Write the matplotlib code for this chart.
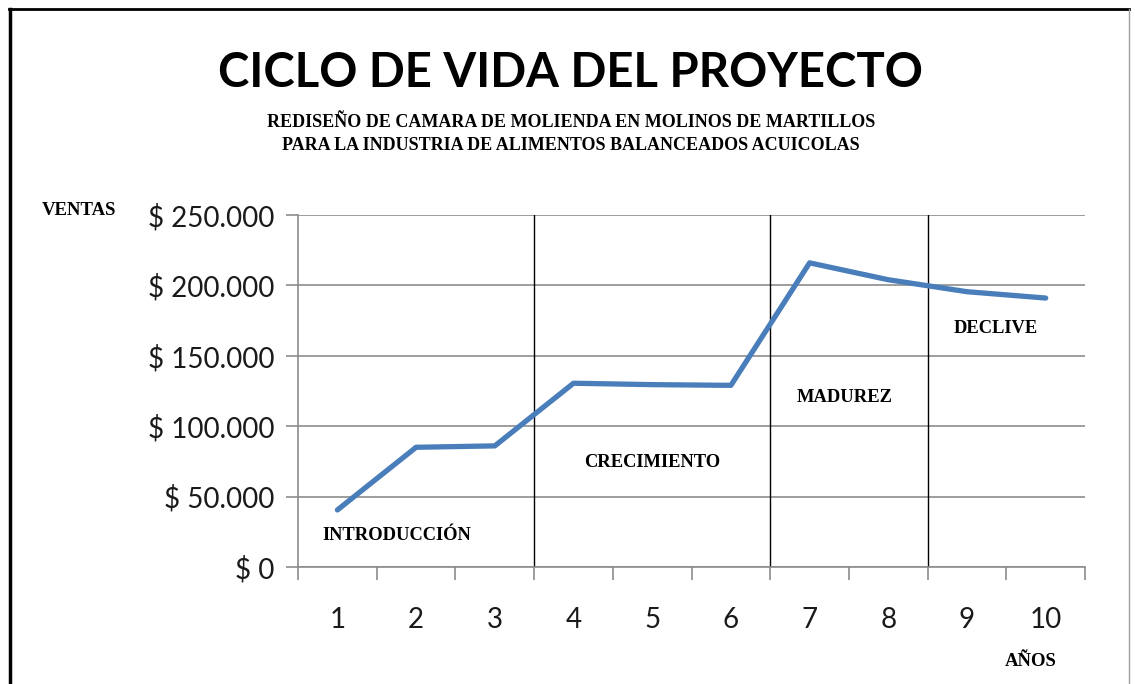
import matplotlib
matplotlib.use("Agg")
import matplotlib.pyplot as plt
from matplotlib.lines import Line2D
from matplotlib.ticker import FuncFormatter

# datos
anios = [1, 2, 3, 4, 5, 6, 7, 8, 9, 10]
ventas = [40500, 85000, 86000, 130500, 129500, 129000, 216000, 204000, 195500, 191000]
limites_fase = [3.5, 6.5, 8.5]
fases = ["INTRODUCCIÓN", "CRECIMIENTO", "MADUREZ", "DECLIVE"]
pos_fases = [(1.76, 22700), (5.0, 73900), (7.45, 120700), (9.37, 169700)]

fig = plt.figure(figsize=(11.35, 6.84), dpi=100)
ax = fig.add_axes([0.2626, 0.1711, 0.6934, 0.5146])

ax.plot(anios, ventas, color="#4A7EBB", linewidth=3.8, solid_capstyle="round",
        solid_joinstyle="round", zorder=3)

ax.set_xlim(0.5, 10.5)
ax.set_ylim(0, 250000)
ax.set_yticks(range(0, 250001, 50000))
ax.yaxis.set_major_formatter(FuncFormatter(lambda v, p: "$ " + f"{int(v):,}".replace(",", ".")))
ax.set_xticks(anios)
ax.set_xticks([x + 0.5 for x in range(0, 11)], minor=True)

ax.grid(axis="y", color="#8C8C8C", linewidth=1.2)
ax.set_axisbelow(True)
for x in limites_fase:
    ax.axvline(x, color="black", linewidth=1.0, zorder=2)

for s in ["top", "right"]:
    ax.spines[s].set_visible(False)
for s in ["left", "bottom"]:
    ax.spines[s].set_color("#8C8C8C")
    ax.spines[s].set_linewidth(1.2)

ax.tick_params(axis="y", which="major", length=9, color="#8C8C8C", width=1.2,
               labelsize=20, labelcolor="#1a1a1a", pad=8)
ax.tick_params(axis="x", which="major", length=0, labelsize=20, labelcolor="#1a1a1a", pad=29)
ax.tick_params(axis="x", which="minor", length=9, color="#8C8C8C", width=1.2)
for lab in ax.get_xticklabels() + ax.get_yticklabels():
    lab.set_family("Lato")

for nombre, (x, y) in zip(fases, pos_fases):
    ax.text(x, y, nombre, ha="center", va="center", family="Liberation Serif",
            fontweight="bold", fontsize=13.3)

fig.text(0.503, 0.893, "CICLO DE VIDA DEL PROYECTO", ha="center", va="center",
         family="Lato", fontweight="bold", fontsize=34)
fig.text(0.503, 0.804, "REDISEÑO DE CAMARA DE MOLIENDA EN MOLINOS DE MARTILLOS\n"
         "PARA LA INDUSTRIA DE ALIMENTOS BALANCEADOS ACUICOLAS",
         ha="center", va="center", family="Liberation Serif", fontweight="bold",
         fontsize=13, linespacing=1.45)
fig.text(0.037, 0.692, "VENTAS", ha="left", va="center", family="Liberation Serif",
         fontweight="bold", fontsize=13.5)
fig.text(0.8855, 0.033, "AÑOS", ha="left", va="center", family="Liberation Serif",
         fontweight="bold", fontsize=13.5)

# marco del grafico
fig.add_artist(Line2D([0.009, 0.009], [0, 0.987], transform=fig.transFigure, color="black", linewidth=2.5))
fig.add_artist(Line2D([0.008, 0.995], [0.987, 0.987], transform=fig.transFigure, color="black", linewidth=2.0))
fig.add_artist(Line2D([0.995, 0.995], [0, 0.987], transform=fig.transFigure, color="#A0A0A0", linewidth=1.0))

fig.savefig("out.png", dpi=100)
